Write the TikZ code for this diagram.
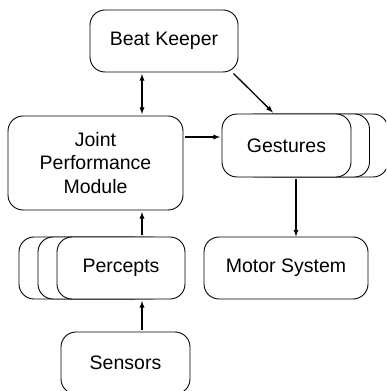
\documentclass[tikz,border=0pt]{standalone}
\usepackage{fontspec}
\setmainfont{Liberation Sans}
\usetikzlibrary{arrows}
\tikzset{>=latex,x=1pt,y=1pt,
  block/.style={draw,line width=0.9pt,fill=white,rounded corners=15pt,align=center,inner sep=0pt,
    font=\fontsize{19.5}{23.5}\selectfont},
  link/.style={line width=1.3pt,shorten >=1.5pt,shorten <=1.5pt}}

\begin{document}
\begin{tikzpicture}
    \useasboundingbox (0,0) rectangle (386,391);
    \clip (0,0) rectangle (386,391);
    \node[block,minimum width=148,minimum height=62] (beat) at (164,350) {Beat Keeper};
    \node[block,minimum width=175,minimum height=94] (joint) at (95.5,228) {Joint\\Performance\\Module};
    % stacked copies behind the front boxes
    \node[block,minimum width=129,minimum height=63] (gest3) at (323.5,245.5) {};
    \node[block,minimum width=129,minimum height=63] (gest2) at (305,245.5) {};
    \node[block,minimum width=129,minimum height=63] (gest) at (286.5,245.5) {Gestures};
    \node[block,minimum width=164,minimum height=62] (motor) at (286,123) {Motor System};
    \node[block,minimum width=128,minimum height=62] (perc3) at (83,123) {};
    \node[block,minimum width=128,minimum height=62] (perc2) at (102,123) {};
    \node[block,minimum width=128,minimum height=62] (perc) at (121,123) {Percepts};
    \node[block,minimum width=129,minimum height=62] (sensors) at (125.5,28) {Sensors};
    \coordinate (colA) at (142,0);
    \coordinate (colB) at (296,0);
    \coordinate (rowB) at (0,254);
    \draw[link,<->] (beat.south -| colA) -- (joint.north -| colA);
    \draw[link,->] ([xshift=-6pt]beat.south east) -- ([xshift=-12.5pt]gest.north);
    \draw[link,->] (joint.east |- rowB) -- (gest.west |- rowB);
    \draw[link,->,shorten >=0pt] (gest.south -| colB) -- (motor.north -| colB);
    \draw[link,->] (perc.north -| colA) -- (joint.south -| colA);
    \draw[link,->] (sensors.north -| colA) -- (perc.south -| colA);
\end{tikzpicture}
\end{document}
